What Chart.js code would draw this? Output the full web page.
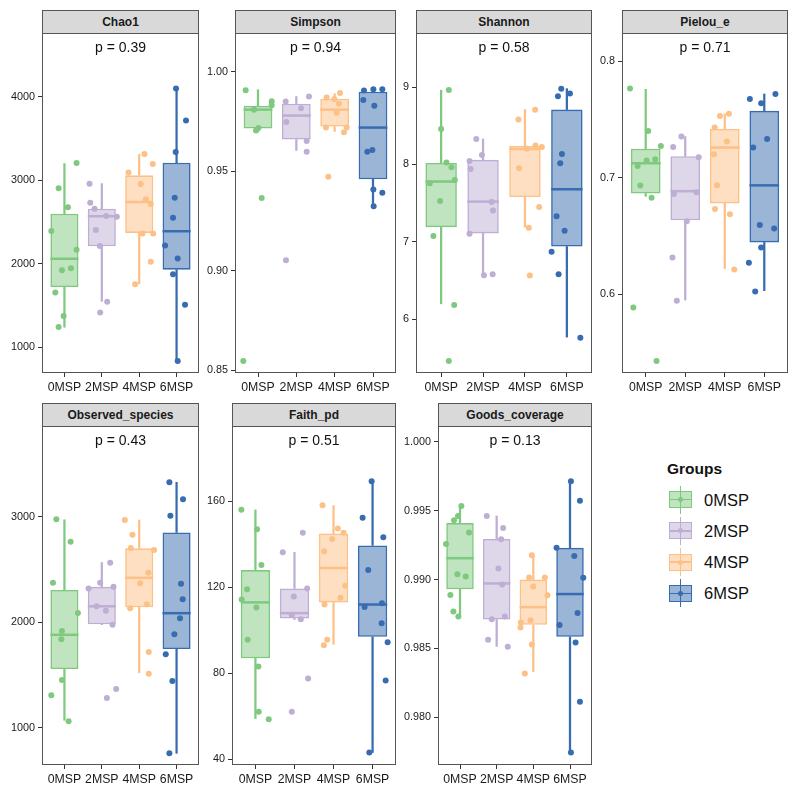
<!DOCTYPE html>
<html>
<head>
<meta charset="utf-8">
<script src="https://cdn.jsdelivr.net/npm/chart.js@4/dist/chart.umd.min.js"></script>
<style>
	body { margin: 0; background: #fff; font-family: "Liberation Sans", Arial, sans-serif; }
	#wrap { position: relative; width: 799px; height: 795px; overflow: hidden; }
	#wrap canvas { position: absolute; }
	.strip { position: absolute; box-sizing: border-box; background: #d9d9d9; border: 1px solid #555;
		font-weight: bold; font-size: 12px; color: #1a1a1a; text-align: center; line-height: 22px; }
	.abs { position: absolute; box-sizing: border-box; }
	.legtitle { position: absolute; font-weight: bold; font-size: 15.5px; color: #111; line-height: 18px; }
	.leglabel { position: absolute; font-size: 16.5px; color: #111; line-height: 18px; }
</style>
</head>
<body>
<div id="wrap"></div>
<script>
const groups = ["0MSP", "2MSP", "4MSP", "6MSP"];
const groupColors = ["#7FC97F", "#BEAED4", "#FDC086", "#386CB0"];
const groupFills = ["rgba(127,201,127,0.5)", "rgba(190,174,212,0.5)", "rgba(253,192,134,0.5)", "rgba(56,108,176,0.5)"];

// box stats per group: [lower whisker, q1, median, q3, upper whisker]
const chao1Stats = [[1240, 1720, 2060, 2600, 3200], [1550, 2210, 2570, 2660, 2960], [1760, 2370, 2740, 3060, 3310], [836, 1930, 2390, 3210, 4100]];
const chao1Points = [
	[[1.325, 3208], [0.845, 2904], [1.094, 2676], [0.649, 2392], [1.325, 2168], [1.174, 1948], [0.934, 1924], [0.756, 1656], [0.978, 1376], [0.845, 1244]],
	[[1.672, 2960], [1.69, 2732], [1.806, 2660], [1.841, 2404], [1.948, 2212], [2.117, 2572], [2.402, 2564], [2.144, 1544], [1.957, 1416]],
	[[3.14, 3316], [2.713, 3092], [3.042, 2956], [3.363, 3196], [3.176, 2772], [3.309, 2716], [3.087, 2364], [3.372, 2364], [3.309, 2024], [2.891, 1756]],
	[[3.985, 4100], [4.252, 3716], [3.977, 3340], [3.95, 2792], [3.905, 2552], [3.692, 2220], [4.03, 2064], [3.905, 1876], [4.226, 1508], [4.03, 836]]
];

const simpsonStats = [[0.970, 0.9715, 0.981, 0.983, 0.991], [0.9605, 0.966, 0.978, 0.984, 0.9876], [0.970, 0.9725, 0.981, 0.9865, 0.989], [0.9325, 0.946, 0.972, 0.990, 0.9913]];
const simpsonPoints = [
	[[0.678, 0.9908], [0.896, 0.9809], [1.357, 0.9852], [1.357, 0.9832], [1.009, 0.9718], [0.948, 0.9705], [1.096, 0.9366], [0.617, 0.8547]],
	[[1.722, 0.9851], [1.739, 0.9748], [2.122, 0.9817], [2.33, 0.9876], [2.27, 0.9653], [2.27, 0.9599], [1.73, 0.9054]],
	[[2.791, 0.9871], [3.139, 0.9893], [2.991, 0.9864], [3.113, 0.9839], [3.052, 0.9795], [2.774, 0.972], [3.313, 0.972], [3.243, 0.9696], [2.835, 0.9473]],
	[[3.765, 0.9906], [4.009, 0.9913], [4.243, 0.9913], [3.748, 0.9859], [4.035, 0.9829], [3.852, 0.9599], [3.983, 0.9607], [4.009, 0.9409], [4.243, 0.9393], [4.017, 0.9325]]
];

const shannonStats = [[6.2, 7.19, 7.78, 8.02, 8.96], [6.57, 7.11, 7.52, 8.06, 8.33], [7.19, 7.58, 8.2, 8.24, 8.71], [5.77, 6.94, 7.68, 8.71, 8.98]];
const shannonPoints = [
	[[1.183, 8.961], [0.999, 8.46], [1.127, 8.025], [1.247, 7.964], [1.327, 7.8], [0.727, 7.757], [0.975, 7.528], [0.815, 7.075], [1.311, 6.186], [1.183, 5.461]],
	[[1.838, 8.331], [1.973, 8.124], [1.678, 8.046], [1.702, 7.943], [2.205, 7.515], [2.237, 7.407], [1.678, 7.105], [2.021, 6.57], [2.229, 6.583]],
	[[3.243, 8.707], [2.844, 8.581], [3.251, 8.245], [3.044, 8.202], [3.403, 8.227], [2.86, 7.951], [3.339, 7.451], [3.092, 7.183], [3.116, 6.566]],
	[[3.866, 8.978], [3.787, 8.883], [4.074, 8.918], [3.882, 8.137], [3.842, 8.016], [3.755, 7.33], [3.946, 7.144], [3.635, 6.872], [3.803, 6.583], [4.322, 5.763]]
];

const pielouStats = [[0.684, 0.6865, 0.7125, 0.725, 0.776], [0.595, 0.6635, 0.6885, 0.7185, 0.7354], [0.622, 0.678, 0.726, 0.742, 0.755], [0.603, 0.6445, 0.6935, 0.7575, 0.772]];
const pielouPoints = [
	[[0.602, 0.7768], [1.064, 0.7403], [1.383, 0.7274], [1.022, 0.7148], [1.24, 0.7159], [0.795, 0.7102], [0.862, 0.6933], [1.148, 0.6829], [0.686, 0.5885], [1.274, 0.5426]],
	[[1.904, 0.7354], [1.694, 0.7265], [2.341, 0.7176], [1.711, 0.6861], [2.282, 0.6875], [2.039, 0.6626], [1.677, 0.6316], [1.787, 0.5943]],
	[[3.106, 0.755], [2.879, 0.753], [2.745, 0.7432], [3.055, 0.7311], [2.728, 0.7202], [2.803, 0.6935], [2.753, 0.6732], [3.131, 0.6686], [3.24, 0.6212]],
	[[3.635, 0.7676], [4.282, 0.7719], [3.921, 0.7641], [4.072, 0.7334], [3.719, 0.726], [3.887, 0.6594], [4.249, 0.6565], [3.921, 0.6402], [3.61, 0.627], [3.77, 0.6023]]
];

const observedStats = [[1070, 1555, 1880, 2305, 2970], [1976, 1980, 2150, 2335, 2565], [1520, 2140, 2420, 2700, 2968], [757, 1745, 2085, 2850, 3325]];
const observedPoints = [
	[[0.783, 2975], [1.165, 2763], [0.694, 2374], [1.361, 2087], [0.934, 1916], [0.916, 1837], [0.934, 1452], [0.649, 1306], [1.112, 1060]],
	[[1.646, 2318], [1.957, 2374], [2.313, 2336], [1.859, 2150], [2.108, 2109], [2.224, 2564], [2.286, 1976], [2.135, 1281], [2.384, 1367]],
	[[2.615, 2968], [2.82, 2829], [2.775, 2703], [3.398, 2684], [3.247, 2469], [3.025, 2368], [3.203, 2169], [2.758, 2131], [3.256, 1717], [3.256, 1512]],
	[[3.808, 3325], [4.172, 3164], [3.834, 3009], [4.119, 2365], [4.163, 2216], [4.092, 2036], [3.941, 1885], [3.71, 1695], [3.888, 1442], [3.808, 757]]
];

const faithStats = [[59, 87, 113, 128, 156], [105, 105.5, 108, 119.5, 136.3], [93.5, 113, 129, 145, 158], [43.2, 97, 112, 139.5, 169.3]];
const faithPoints = [
	[[0.64, 156.1], [1.042, 147], [1.153, 130.4], [0.785, 119.1], [0.648, 114.3], [1.024, 110.6], [0.802, 95.6], [1.076, 83.2], [1.084, 62.1], [1.341, 58.7]],
	[[1.7, 136.3], [2.213, 145.4], [1.983, 115.7], [2.325, 119.4], [1.931, 107.2], [2.162, 105.2], [2.35, 77.6], [1.931, 62.1]],
	[[2.718, 158.1], [3.112, 147.3], [2.966, 142.5], [3.257, 145.4], [2.761, 136.8], [3.3, 120.7], [3.18, 115.1], [2.77, 112], [2.838, 95.6], [2.752, 93.1]],
	[[3.976, 169.3], [3.745, 152.3], [4.275, 143.3], [3.89, 128], [3.796, 110.8], [4.241, 112.6], [4.232, 103.3], [4.386, 94.5], [4.335, 76.7], [3.916, 43.2]]
];

const goodsStats = [[0.98735, 0.9893, 0.99155, 0.9941, 0.99534], [0.98515, 0.9871, 0.98972, 0.99295, 0.99461], [0.98331, 0.98672, 0.988, 0.99, 0.99176], [0.97746, 0.98585, 0.98895, 0.9923, 0.99713]];
const goodsPoints = [
	[[1.038, 0.99534], [0.946, 0.99461], [0.837, 0.9943], [1.247, 0.99341], [0.619, 0.99258], [0.928, 0.99039], [1.156, 0.99022], [0.737, 0.98889], [0.819, 0.98768], [0.956, 0.98732]],
	[[1.73, 0.99461], [2.176, 0.99374], [2.121, 0.99292], [2.048, 0.9908], [2.149, 0.98964], [2.222, 0.98732], [1.866, 0.98713], [1.766, 0.98563], [2.303, 0.98512]],
	[[2.996, 0.98949], [2.886, 0.99015], [3.314, 0.99015], [2.959, 0.99176], [3.387, 0.98886], [2.659, 0.98688], [2.65, 0.98652], [2.923, 0.98705], [2.959, 0.98529], [2.768, 0.98319]],
	[[4.025, 0.99713], [4.271, 0.99572], [3.633, 0.9923], [4.116, 0.99171], [4.362, 0.99014], [4.207, 0.98758], [3.715, 0.98671], [4.152, 0.98543], [4.271, 0.98113], [4.025, 0.97746]]
];

const panelTitles = ["Chao1", "Simpson", "Shannon", "Pielou_e", "Observed_species", "Faith_pd", "Goods_coverage"];
const pValues = ["p = 0.39", "p = 0.94", "p = 0.58", "p = 0.71", "p = 0.43", "p = 0.51", "p = 0.13"];
const yRanges = [[692, 4764], [0.8487, 1.0195], [5.306, 9.699], [0.5323, 0.8244], [646, 3859], [37.4, 195], [0.97655, 1.00114]];
const yTicks = [
	[1000, 2000, 3000, 4000],
	[0.85, 0.90, 0.95, 1.00],
	[6, 7, 8, 9],
	[0.6, 0.7, 0.8],
	[1000, 2000, 3000],
	[40, 80, 120, 160],
	[0.980, 0.985, 0.990, 0.995, 1.000]
];
const yTickLabels = [
	["1000", "2000", "3000", "4000"],
	["0.85", "0.90", "0.95", "1.00"],
	["6", "7", "8", "9"],
	["0.6", "0.7", "0.8"],
	["1000", "2000", "3000"],
	["40", "80", "120", "160"],
	["0.980", "0.985", "0.990", "0.995", "1.000"]
];
const allStats = [chao1Stats, simpsonStats, shannonStats, pielouStats, observedStats, faithStats, goodsStats];
const allPoints = [chao1Points, simpsonPoints, shannonPoints, pielouPoints, observedPoints, faithPoints, goodsPoints];

// panel rectangles in page pixels: left, top, right, bottom
const panelRects = [
	[42, 33, 199, 373], [235, 33, 396, 373], [416, 33, 592, 373], [622, 33, 788, 373],
	[42, 426, 199, 765], [232, 426, 396, 765], [438, 426, 592, 765]
];

const BOX_HALF = 0.375;
const FONT = '"Liberation Sans", Arial, sans-serif';

const panelDecor = {
	id: "panelDecor",
	afterDatasetsDraw(chart, args, opts) {
		const {ctx, chartArea: a} = chart;
		ctx.save();
		ctx.strokeStyle = "#555";
		ctx.lineWidth = 1;
		ctx.strokeRect(a.left + 0.5, a.top + 0.5, a.width - 1, a.height - 1);
		ctx.fillStyle = "#111";
		ctx.font = "14px " + FONT;
		ctx.textAlign = "center";
		ctx.textBaseline = "middle";
		ctx.fillText(opts.text, (a.left + a.right) / 2, a.top + 15);
		ctx.restore();
	}
};

function buildDatasets(stats, points) {
	const datasets = [
		{
			type: "bar",
			data: stats.map((s, i) => ({x: i + 1, y: [s[1], s[3]]})),
			backgroundColor: groupFills,
			borderColor: groupColors,
			borderWidth: 1.6,
			borderSkipped: false,
			grouped: false,
			barPercentage: BOX_HALF * 2,
			categoryPercentage: 1,
			order: 3
		}, {
			type: "bar",
			data: stats.map((s, i) => ({x: i + 1, y: [s[0], s[1]]})),
			backgroundColor: groupColors,
			barThickness: 1.6,
			grouped: false,
			order: 4
		}, {
			type: "bar",
			data: stats.map((s, i) => ({x: i + 1, y: [s[3], s[4]]})),
			backgroundColor: groupColors,
			barThickness: 1.6,
			grouped: false,
			order: 4
		}, {
			// median line, as wide as the box
			type: "scatter",
			data: stats.map((s, i) => ({x: i + 1, y: s[2]})),
			pointStyle: "line",
			pointRadius: (ctx) => {
				const sc = ctx.chart.scales.x;
				return Math.abs(sc.getPixelForValue(BOX_HALF) - sc.getPixelForValue(0));
			},
			borderColor: groupColors,
			pointBorderColor: groupColors,
			pointBorderWidth: 2.5,
			order: 2
		}
	];
	points.forEach((pts, i) => {
		datasets.push({
			type: "scatter",
			data: pts.map(([x, y]) => ({x, y})),
			pointRadius: 3,
			pointBorderWidth: 0,
			pointBackgroundColor: groupColors[i],
			order: 1
		});
	});
	return datasets;
}

function buildPanel(i) {
	const [L, T, R, B] = panelRects[i];
	const padL = 50, padT = 20, padR = 12, padB = 30;
	const wrap = document.getElementById("wrap");

	const canvas = document.createElement("canvas");
	canvas.width = R - L + padL + padR;
	canvas.height = B - T + padT + padB;
	canvas.style.left = (L - padL) + "px";
	canvas.style.top = (T - padT) + "px";
	wrap.appendChild(canvas);

	const strip = document.createElement("div");
	strip.className = "strip";
	strip.style.left = L + "px";
	strip.style.top = (T - 23) + "px";
	strip.style.width = (R - L) + "px";
	strip.style.height = "24px";
	strip.textContent = panelTitles[i];
	wrap.appendChild(strip);

	new Chart(canvas.getContext("2d"), {
		type: "bar",
		data: {datasets: buildDatasets(allStats[i], allPoints[i])},
		plugins: [panelDecor],
		options: {
			responsive: false,
			animation: false,
			events: [],
			layout: {padding: {left: 0, top: padT, right: padR, bottom: 0}},
			plugins: {
				legend: {display: false},
				tooltip: {enabled: false},
				panelDecor: {text: pValues[i]}
			},
			scales: {
				x: {
					type: "linear",
					min: 0.4,
					max: 4.6,
					offset: false,
					afterBuildTicks: (scale) => {
						scale.ticks = groups.map((g, k) => ({value: k + 1}));
					},
					afterFit: (scale) => { scale.height = padB; },
					ticks: {
						autoSkip: false,
						maxRotation: 0,
						padding: 3,
						color: "#1a1a1a",
						font: {family: FONT, size: 12.3},
						callback: (v) => groups[v - 1]
					},
					grid: {offset: false, drawOnChartArea: false, drawTicks: true, tickLength: 4, color: "#333"},
					border: {display: false}
				},
				y: {
					type: "linear",
					min: yRanges[i][0],
					max: yRanges[i][1],
					beginAtZero: false,
					afterBuildTicks: (scale) => {
						scale.ticks = yTicks[i].map(v => ({value: v}));
					},
					afterFit: (scale) => { scale.width = padL; },
					ticks: {
						padding: 3,
						color: "#1a1a1a",
						font: {family: FONT, size: 10.8},
						callback: (v, k) => yTickLabels[i][k]
					},
					grid: {drawOnChartArea: false, drawTicks: true, tickLength: 4, color: "#333"},
					border: {display: false}
				}
			}
		}
	});
}

function buildLegend() {
	const wrap = document.getElementById("wrap");
	const title = document.createElement("div");
	title.className = "legtitle";
	title.style.left = "667px";
	title.style.top = "460px";
	title.textContent = "Groups";
	wrap.appendChild(title);

	groups.forEach((g, i) => {
		const cy = 499.5 + i * 31.3;
		const parts = [
			{l: 679.75, t: cy - 14, w: 1.5, h: 28, bg: groupColors[i]},
			{l: 669, t: cy - 8.5, w: 23, h: 17, bg: groupFills[i], border: "1.5px solid " + groupColors[i]},
			{l: 669, t: cy - 0.75, w: 23, h: 1.5, bg: groupColors[i]},
			{l: 678, t: cy - 2.5, w: 5, h: 5, bg: groupColors[i], radius: "50%"}
		];
		parts.forEach(p => {
			const d = document.createElement("div");
			d.className = "abs";
			d.style.left = p.l + "px";
			d.style.top = p.t + "px";
			d.style.width = p.w + "px";
			d.style.height = p.h + "px";
			d.style.background = p.bg;
			if (p.border) d.style.border = p.border;
			if (p.radius) d.style.borderRadius = p.radius;
			wrap.appendChild(d);
		});
		const label = document.createElement("div");
		label.className = "leglabel";
		label.style.left = "704px";
		label.style.top = (cy - 9) + "px";
		label.textContent = g;
		wrap.appendChild(label);
	});
}

panelTitles.forEach((t, i) => buildPanel(i));
buildLegend();
</script>
</body>
</html>
